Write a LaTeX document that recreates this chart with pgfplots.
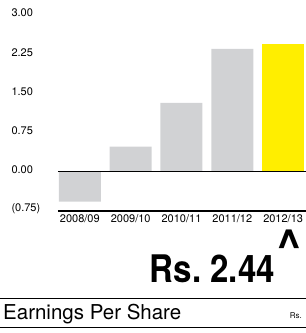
\documentclass[border=0pt]{standalone}
\usepackage{pgfplots}
\pgfplotsset{compat=1.18}
\usepackage{fontspec}
\setmainfont{TeX Gyre Heros}
\definecolor{bargray}{RGB}{209,210,212}
\definecolor{baryellow}{RGB}{255,238,0}
\begin{document}
\begin{tikzpicture}[x=1pt,y=1pt]
\path[use as bounding box] (0,0) rectangle (306,333);
\begin{axis}[
  at={(58pt,122pt)}, anchor=south west,
  scale only axis, width=248pt, height=196pt,
  xmin=-0.43, xmax=4.45, ymin=-0.75, ymax=3.0,
  axis line style={draw=none},
  major tick length=0pt,
  xtick={0,1,2,3,4},
  xticklabels={2008/09,2009/10,2010/11,2011/12,2012/13},
  ytick={-0.75,0,0.75,1.5,2.25,3},
  yticklabels={(0.75),0.00,0.75,1.50,2.25,3.00},
  yticklabel style={anchor=west, xshift=-50pt, yshift=2pt, font=\fontsize{11}{12}\selectfont},
  xticklabel style={anchor=north, yshift=0pt, font=\fontsize{11}{12}\selectfont},
  ybar, bar width=42pt, bar shift=0pt,
  clip=false,
]
\addplot[fill=bargray, draw=none] coordinates {(0,-0.57) (1,0.48) (2,1.32) (3,2.35)};
\addplot[fill=baryellow, draw=none] coordinates {(4,2.44)};
\draw[black, line width=0.9pt] (axis cs:-0.43,0) -- (axis cs:4.45,0);
\draw[black, line width=1.8pt] (axis cs:-0.43,-0.75) -- (axis cs:4.45,-0.75);
\end{axis}
\node[anchor=base east, inner sep=0pt, font=\fontsize{38}{39}\selectfont\bfseries] at (275,50) {\scalebox{0.87}[1]{Rs.\hspace{0.28em}2.44}};
\node[anchor=base west, inner sep=0pt, font=\fontsize{44}{44}\selectfont\bfseries] at (276,72) {\textasciicircum};
\draw[line width=0.8pt] (0,35) -- (306,35);
\node[anchor=base west, inner sep=0pt, font=\fontsize{20.5}{21}\selectfont] at (3,13) {Earnings Per Share};
\node[anchor=base east, inner sep=0pt, font=\fontsize{8}{9}\selectfont] at (302,15) {Rs.};
\draw[line width=0.8pt] (0,6) -- (306,6);
\end{tikzpicture}
\end{document}
